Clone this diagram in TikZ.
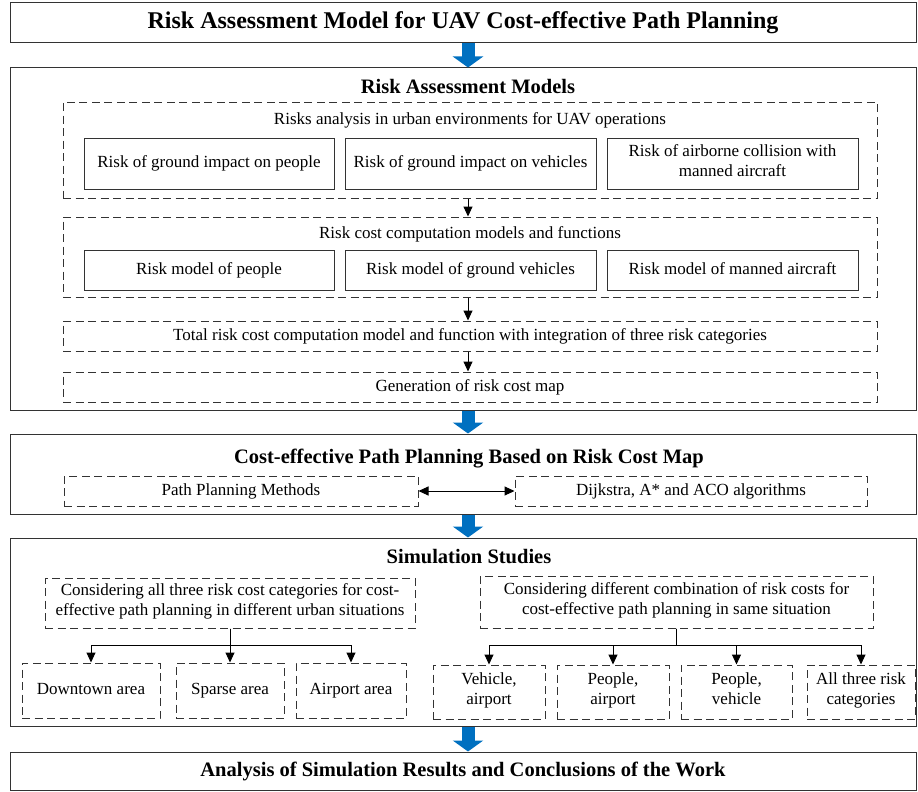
\documentclass[tikz,border=0pt]{standalone}
\usepackage{fontspec}
\setmainfont{Liberation Serif}
\usetikzlibrary{arrows.meta}
\definecolor{flowblue}{RGB}{0,112,192}

\begin{document}
\begin{tikzpicture}[x=1pt,y=-1pt,
    frame/.style={draw=black!80,line width=1pt,inner sep=0pt},
    group/.style={draw=black!80,line width=1pt,dash pattern=on 8pt off 4.5pt,inner sep=0pt,align=center,font=\fontsize{17}{20}\selectfont,execute at begin node=\strut,execute at end node=\strut},
    item/.style={draw=black!80,line width=1pt,inner sep=0pt,align=center,font=\fontsize{17}{20}\selectfont,execute at begin node=\strut,execute at end node=\strut},
    heading/.style={font=\bfseries\fontsize{20.5}{24}\selectfont},
    plain/.style={font=\fontsize{17}{20}\selectfont},
    conn/.style={line width=1pt,-{Triangle[width=9pt,length=10pt]}},
    bigflow/.style={draw=flowblue,line width=13pt,-{Triangle[width=30pt,length=11pt]}}]
  \useasboundingbox (0,0) rectangle (918,792);
      % stage boxes
      \node[frame,minimum width=906pt,minimum height=40pt,font=\bfseries\fontsize{24}{28}\selectfont] (title) at (463,23) {Risk Assessment Model for UAV Cost-effective Path Planning};
      \node[frame,minimum width=906pt,minimum height=342pt] (ram) at (463,239) {};
      \node[frame,minimum width=906pt,minimum height=80pt] (ppl) at (463,474) {};
      \node[frame,minimum width=906pt,minimum height=188pt] (sim) at (463,632) {};
      \node[frame,minimum width=906pt,minimum height=38pt,heading] (res) at (463,771) {Analysis of Simulation Results and Conclusions of the Work};
      % risk assessment models
      \node[heading] (ramT) at (468,86) {Risk Assessment Models};
      \node[group,minimum width=814pt,minimum height=96pt] (ana) at (470,150) {};
      \node[plain] (anaT) at (470,120) {Risks analysis in urban environments for UAV operations};
      \node[item,minimum width=250pt,minimum height=51pt] (A1) at (209,163.5) {Risk of ground impact on people};
      \node[item,minimum width=251pt,minimum height=51pt] (A2) at (470.5,163.5) {Risk of ground impact on vehicles};
      \node[item,minimum width=251pt,minimum height=51pt] (A3) at (732.5,163.5) {Risk of airborne collision with\\manned aircraft};
      \node[group,minimum width=814pt,minimum height=80pt] (cmp) at (470,257) {};
      \node[plain] (cmpT) at (470,234) {Risk cost computation models and functions};
      \node[item,minimum width=250pt,minimum height=40pt] (B1) at (209,270) {Risk model of people};
      \node[item,minimum width=251pt,minimum height=40pt] (B2) at (470.5,270) {Risk model of ground vehicles};
      \node[item,minimum width=251pt,minimum height=40pt] (B3) at (732.5,270) {Risk model of manned aircraft};
      \node[group,minimum width=814pt,minimum height=30pt] (tot) at (470,336) {Total risk cost computation model and function with integration of three risk categories};
      \node[group,minimum width=814pt,minimum height=30pt] (map) at (470,387) {Generation of risk cost map};
      \draw[conn] ([xshift=-2pt]ana.south) -- ([xshift=-2pt]cmp.north);
      \draw[conn] ([xshift=-2pt]cmp.south) -- ([xshift=-2pt]tot.north);
      \draw[conn] ([xshift=-2pt]tot.south) -- ([xshift=-2pt]map.north);
      % path planning
      \node[heading] (pplT) at (469,459) {Cost-effective Path Planning Based on Risk Cost Map};
      \node[group,minimum width=354pt,minimum height=30pt] (meth) at (241,491) {Path Planning Methods};
      \node[group,minimum width=352pt,minimum height=30pt] (algo) at (691,491) {Dijkstra, A* and ACO algorithms};
      \draw[line width=1pt,{Triangle[width=9pt,length=10pt]}-{Triangle[width=9pt,length=10pt]}] (meth.east) -- (algo.west);
      % simulation studies
      \node[heading] (simT) at (469,557) {Simulation Studies};
      \node[group,minimum width=370pt,minimum height=50pt] (urb) at (230,603) {Considering all three risk cost categories for cost-\\effective path planning in different urban situations};
      \node[group,minimum width=393pt,minimum height=52pt] (cmb) at (676.5,602) {Considering different combination of risk costs for\\cost-effective path planning in same situation};
      \node[group,minimum width=138pt,minimum height=55pt] (C1) at (91,690.5) {Downtown area};
      \node[group,minimum width=108pt,minimum height=55pt] (C2) at (230,690.5) {Sparse area};
      \node[group,minimum width=110pt,minimum height=55pt] (C3) at (351,690.5) {Airport area};
      \node[group,minimum width=112pt,minimum height=54pt] (D1) at (489,692) {Vehicle,\\airport};
      \node[group,minimum width=112pt,minimum height=54pt] (D2) at (613,692) {People,\\airport};
      \node[group,minimum width=111pt,minimum height=54pt] (D3) at (736.5,692) {People,\\vehicle};
      \node[group,minimum width=108pt,minimum height=54pt] (D4) at (861,692) {All three risk\\categories};
      \draw[conn] (urb.south) -- ++(0,17) -| (C1.north);
      \draw[conn] (urb.south) -- (C2.north);
      \draw[conn] (urb.south) -- ++(0,17) -| (C3.north);
      \draw[conn] (cmb.south) -- ++(0,17) -| (D1.north);
      \draw[conn] (cmb.south) -- ++(0,17) -| (D2.north);
      \draw[conn] (cmb.south) -- ++(0,17) -| (D3.north);
      \draw[conn] (cmb.south) -- ++(0,17) -| (D4.north);
      % stage flow
      \draw[bigflow] ([xshift=5pt]title.south) -- ([xshift=5pt]ram.north);
      \draw[bigflow] ([xshift=5pt]ram.south) -- ([xshift=5pt]ppl.north);
      \draw[bigflow] ([xshift=5pt]ppl.south) -- ([xshift=5pt]sim.north);
      \draw[bigflow] ([xshift=5pt]sim.south) -- ([xshift=5pt]res.north);
\end{tikzpicture}
\end{document}
